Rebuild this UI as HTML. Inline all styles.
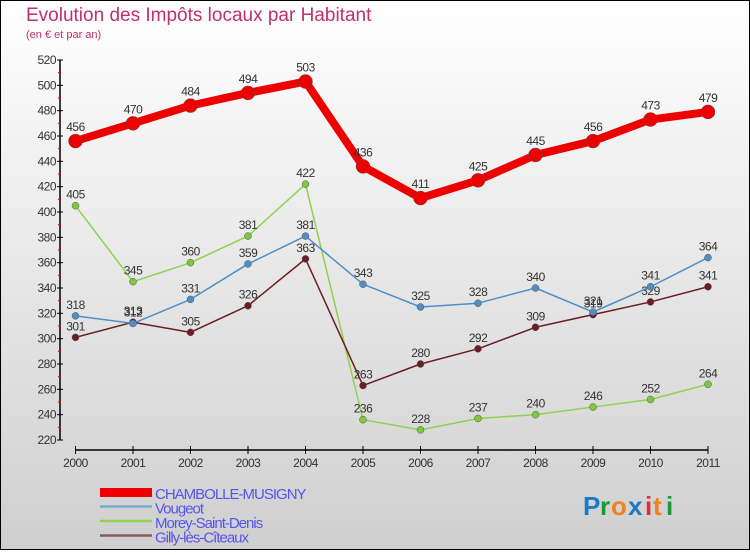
<!DOCTYPE html>
<html><head><meta charset="utf-8"><style>
html,body{margin:0;padding:0}
body{width:750px;height:550px;overflow:hidden;font-family:"Liberation Sans",sans-serif}
</style></head><body>
<svg id="chart" width="750" height="550" xmlns="http://www.w3.org/2000/svg" font-family="Liberation Sans, sans-serif">
<defs><linearGradient id="bg" x1="0" y1="0" x2="0" y2="1"><stop offset="0" stop-color="#ffffff"/><stop offset="1" stop-color="#cfcfcf"/></linearGradient></defs>
<rect x="0.5" y="0.5" width="749" height="549" fill="url(#bg)" stroke="#000" stroke-width="1"/>
<text x="26" y="21" font-size="19" fill="#c0306a">Evolution des Impôts locaux par Habitant</text>
<text x="26" y="38" font-size="11" fill="#c0306a">(en € et par an)</text>
<g id="axes"></g>
<g id="series"></g>
<g id="legend"></g>
<g font-size="26" font-weight="bold">
<text x="583" y="515" fill="#1a7ac8">P</text><text x="600" y="515" fill="#1a9a3a">r</text><text x="611" y="515" fill="#f08020">o</text><text x="628" y="515" fill="#1a7ac8">x</text><text x="645" y="515" fill="#e03030">i</text><text x="653" y="515" fill="#f08020">t</text><text x="666" y="515" fill="#1a9a3a">i</text>
</g>
</svg>
<script>
const years=[2000,2001,2002,2003,2004,2005,2006,2007,2008,2009,2010,2011];
const yTicks=[220,240,260,280,300,320,340,360,380,400,420,440,460,480,500,520];
const seriesNames=["CHAMBOLLE-MUSIGNY","Vougeot","Morey-Saint-Denis","Gilly-lès-Cîteaux"];
const chambolle=[456,470,484,494,503,436,411,425,445,456,473,479];
const vougeot=[318,312,331,359,381,343,325,328,340,321,341,364];
const morey=[405,345,360,381,422,236,228,237,240,246,252,264];
const gilly=[301,313,305,326,363,263,280,292,309,319,329,341];
const NS="http://www.w3.org/2000/svg";
function x(i){return 75.5+i*(708-75.5)/11;}
function y(v){return 440-(v-220)*380/300;}
function mk(tag,attrs,parent){const e=document.createElementNS(NS,tag);for(const k in attrs)e.setAttribute(k,attrs[k]);parent.appendChild(e);return e;}
const axes=document.getElementById('axes');
let ya=mk('line',{x1:60,y1:y(520),x2:60,y2:440,stroke:'#000','stroke-width':1.5},axes);


yTicks.forEach(t=>{
 mk('line',{x1:57,y1:y(t),x2:63,y2:y(t),stroke:'#000'},axes);
 if(t<520)mk('line',{x1:58,y1:y(t+10),x2:61,y2:y(t+10),stroke:'#e00'},axes);
 const tx=mk('text',{x:56,y:y(t)+4,'font-size':12,'text-anchor':'end',fill:'#333','letter-spacing':'-0.5'},axes);
 tx.textContent=t;
 
 
});
let xa=mk('line',{x1:75.5,y1:450,x2:708,y2:450,stroke:'#000','stroke-width':1.5},axes);


years.forEach((yr,i)=>{
 mk('line',{x1:x(i),y1:446,x2:x(i),y2:454,stroke:'#000'},axes);
 const tx=mk('text',{x:x(i),y:467,'font-size':12,'text-anchor':'middle',fill:'#333','letter-spacing':'-0.5'},axes);
 tx.textContent=yr;
 
 
});
const sg=document.getElementById('series');
const defs=[
 {d:morey,c:'#8ed24f',dot:'#7cc93b',w:1.5,r:3.5,name:'morey'},
 {d:gilly,c:'#6b1c24',dot:'#6b1c24',w:1.5,r:3.5,name:'gilly'},
 {d:vougeot,c:'#4f8fc8',dot:'#4f8fc8',w:1.5,r:3.5,name:'vougeot'},
 {d:chambolle,c:'#ee0000',dot:'#ee0000',w:8,r:7,name:'chambolle'}];
defs.forEach(s=>{
 const g=mk('g',{},sg);
 
 
 const l=mk('polyline',{points:s.d.map((v,i)=>x(i)+','+y(v)).join(' '),fill:'none',stroke:s.c,'stroke-width':s.w,'stroke-linejoin':'round'},g);
 
 
 s.d.forEach((v,i)=>{
  const p=mk('circle',{cx:x(i),cy:y(v),r:s.r,fill:s.dot,stroke:'#555','stroke-width':0.5},g);
  
  
  const t=mk('text',{x:x(i),y:y(v)-(s.w>4?10:7),'font-size':12,'text-anchor':'middle',fill:'#333','letter-spacing':'-0.5'},g);
  t.textContent=v;
  
  
 });
});
const lg=document.getElementById('legend');
const lc=['#ee0000','#7aaad0','#8ed24f','#8a5a5a'];
seriesNames.forEach((n,i)=>{
 const yy=493+i*14.5;
 const g=mk('g',{},lg);
 
 
 if(i==0)mk('rect',{x:100,y:488,width:52,height:9,fill:lc[0]},g);
 else mk('line',{x1:100,y1:yy-1,x2:152,y2:yy-1,stroke:lc[i],'stroke-width':2.5},g);
 const t=mk('text',{x:155,y:yy+6,'font-size':15,fill:'#5555ee','letter-spacing':'-1'},g);
 t.textContent=n;
});
</script>
</body></html>
